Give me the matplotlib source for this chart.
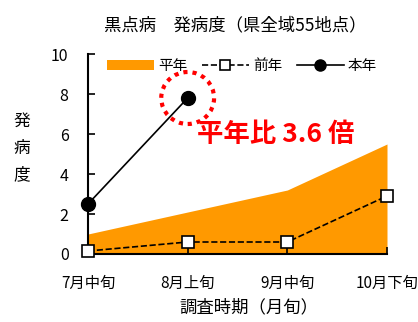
import numpy as np
import matplotlib.pyplot as plt
from matplotlib.patches import Ellipse

plt.rcParams['font.family'] = ['Noto Sans CJK JP', 'DejaVu Sans']

# 調査時期
periods = ['7月中旬', '8月上旬', '9月中旬', '10月下旬']
heinen = [1.0, 2.1, 3.2, 5.5]     # 平年
zennen = [0.15, 0.6, 0.6, 2.9]    # 前年
honnen = [2.5, 7.8]               # 本年

x = np.arange(len(periods))

fig = plt.figure(figsize=(4.18, 3.22), dpi=100)
ax = fig.add_axes([88 / 418, 1 - 254 / 322, 299 / 418, 200 / 322])

ax.fill_between(x, 0, heinen, color='#FF9900', linewidth=0, label='平年')
ax.plot(x, zennen, '--', color='black', lw=1.2, marker='s', ms=9,
        mfc='white', mec='black', mew=1.2, label='前年', clip_on=False, zorder=4)
ax.plot(x[:len(honnen)], honnen, '-', color='black', lw=1.2, marker='o', ms=10,
        mfc='black', label='本年', clip_on=False, zorder=5)

ax.set_xlim(0, 3)
ax.set_ylim(0, 10)
ax.set_yticks(np.arange(0, 11, 2))
ax.set_xticks(x)
ax.set_xticklabels(periods, fontsize=11)
ax.tick_params(axis='y', labelsize=11.5, length=5, direction='in', width=1.2, pad=14)
ax.tick_params(axis='x', length=5, direction='in', width=1.2, pad=15)
ax.spines['top'].set_visible(False)
ax.spines['right'].set_visible(False)
ax.spines['left'].set_linewidth(1.5)
ax.spines['bottom'].set_linewidth(1.5)

# 強調の点線円
circ = Ellipse((1, honnen[1]), width=53 / 100, height=52 / 20, fill=False,
               edgecolor='red', linestyle=(0, (1, 1.2)), lw=3, clip_on=False)
ax.add_patch(circ)
ax.text(1.09, 6.0, '平年比 3.6 倍', color='red', fontsize=19, fontweight='bold',
        ha='left', va='center')

ax.legend(loc='upper left', bbox_to_anchor=(0.02, 1.04), ncol=3, frameon=False,
          fontsize=10.5, handlelength=3.2, handletextpad=0.3, columnspacing=1.0,
          markerscale=0.8)

fig.text(235 / 418, 1 - 25 / 322, '黒点病　発病度（県全域55地点）', ha='center', va='center', fontsize=12.5)
fig.text(22 / 418, 0.54, '発\n病\n度', ha='center', va='center', fontsize=12, linespacing=1.75)
fig.text(249 / 418, 1 - 307 / 322, '調査時期（月旬）', ha='center', va='center', fontsize=12.5)

fig.savefig('out.png', dpi=100)
